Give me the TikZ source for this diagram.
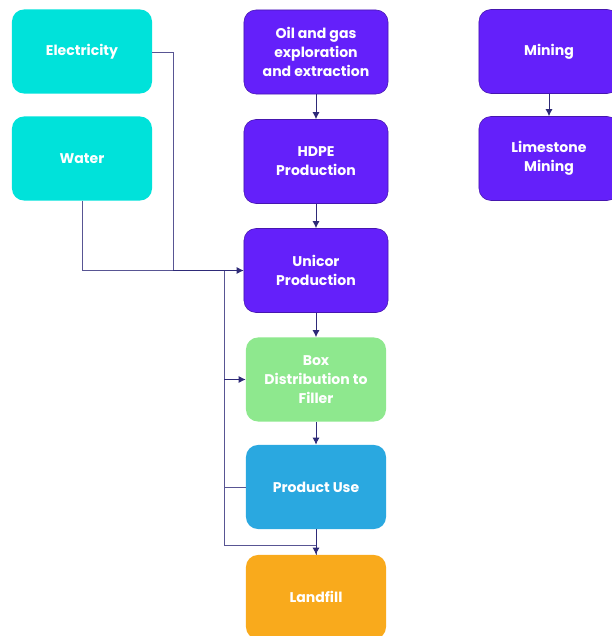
\documentclass[tikz,border=0pt]{standalone}
\usepackage{fontspec}
\setmainfont{Poppins}
\usetikzlibrary{arrows.meta}

\definecolor{energy}{HTML}{00E2DA}
\definecolor{process}{HTML}{6420FA}
\definecolor{distrib}{HTML}{8EE88E}
\definecolor{usage}{HTML}{2AA8E0}
\definecolor{waste}{HTML}{F9AA1C}
\definecolor{link}{HTML}{2E2A78}

\tikzset{
	stage/.style={rounded corners=0.3cm, minimum width=3.5cm, minimum height=2.1cm, align=center, text=white, font=\fontsize{10}{13.6}\selectfont\bfseries, inner sep=2pt},
	energybox/.style={stage, fill=energy},
	processbox/.style={stage, fill=process, draw=process!70!black, line width=0.4pt, minimum width=3.6cm},
	flow/.style={draw=link, line width=0.7pt, -{Latex[length=5pt,width=5pt]}},
	bus/.style={draw=link!80, line width=0.7pt}
}

\begin{document}
\begin{tikzpicture}[x=0.025cm, y=-0.025cm]
	\useasboundingbox (0,0) rectangle (611,636);

	\node [energybox] (elec) at (82,51.5) {Electricity};
	\node [energybox] (water) at (82,158.5) {Water};

	\node [processbox] (oil) at (316,52) {Oil and gas\\exploration\\and extraction};
	\node [processbox] (hdpe) at (316,161.5) {HDPE\\Production};
	\node [processbox] (unicor) at (316,270.5) {Unicor\\Production};
	\node [stage, fill=distrib] (box) at (316,379.5) {Box\\Distribution to\\Filler};
	\node [stage, fill=usage] (use) at (316,487) {Product Use};
	\node [stage, fill=waste] (landfill) at (316,597) {Landfill};

	\node [processbox, minimum width=3.5cm] (mining) at (549,51.5) {Mining};
	\node [processbox, minimum width=3.5cm] (lime) at (549,158.5) {Limestone\\Mining};

	\coordinate (ejoin) at (173,270.5);
	\coordinate (btop) at (224,270.5);
	\coordinate (bbot) at (224,545);

	\draw [bus] (elec.east |- 0,52) -| (ejoin);
	\draw [bus] (water.south) |- (ejoin);
	\draw [flow] (ejoin) -- (unicor.west);
	\draw [bus] (btop) -- (bbot) -| (landfill.north);
	\draw [flow] (btop |- box.west) -- (box.west);
	\draw [bus] (use.west) -- (btop |- use.west);

	\draw [flow] (oil) -- (hdpe);
	\draw [flow] (hdpe) -- (unicor);
	\draw [flow] (unicor) -- (box);
	\draw [flow] (box) -- (use);
	\draw [flow] (use) -- (landfill);
	\draw [flow] (mining) -- (lime);
\end{tikzpicture}
\end{document}
